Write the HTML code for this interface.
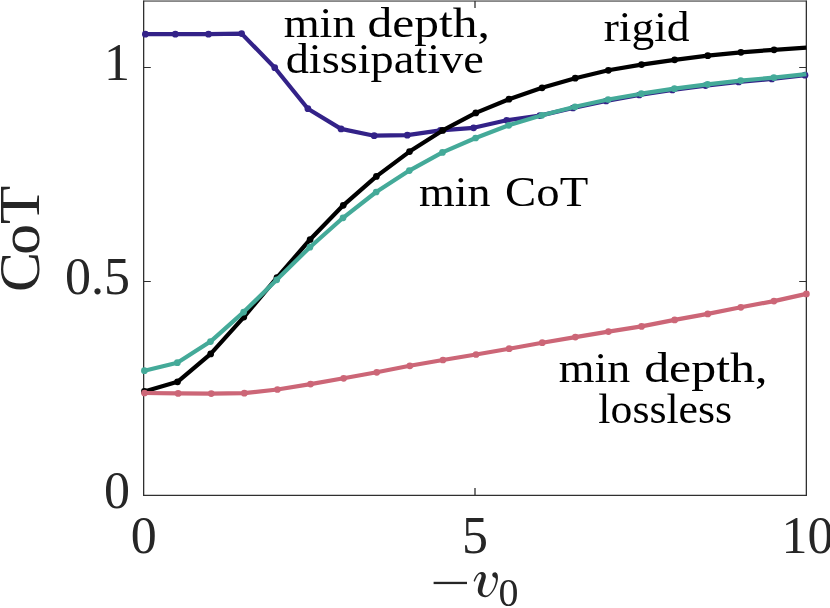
<!DOCTYPE html>
<html><head><meta charset="utf-8"><title>CoT vs -v0</title>
<style>
html,body{margin:0;padding:0;background:#fff;}
body{width:830px;height:608px;overflow:hidden;font-family:"Liberation Serif",serif;}
svg{display:block;position:absolute;left:0;top:0;will-change:transform;}
</style></head>
<body>
<svg width="830" height="608" viewBox="0 0 830 608">
<rect x="0" y="0" width="830" height="608" fill="#ffffff"/>

<rect x="143" y="0" width="664" height="1" fill="#9a9a9a"/>
<rect x="143" y="1" width="664" height="0.8" fill="#6a6a6a"/>
<line x1="143.65" y1="0.8" x2="143.65" y2="495.95" stroke="#303030" stroke-width="1.3"/>
<line x1="806.35" y1="0.8" x2="806.35" y2="495.95" stroke="#303030" stroke-width="1.3"/>
<line x1="143" y1="495.3" x2="807" y2="495.3" stroke="#303030" stroke-width="1.3"/>
<!-- ticks -->
<line x1="143.6" y1="67.5" x2="150.8" y2="67.5" stroke="#303030" stroke-width="1"/>
<line x1="143.6" y1="281.5" x2="150.8" y2="281.5" stroke="#303030" stroke-width="1"/>
<line x1="799.2" y1="67.5" x2="806.4" y2="67.5" stroke="#303030" stroke-width="1"/>
<line x1="799.2" y1="281.5" x2="806.4" y2="281.5" stroke="#303030" stroke-width="1"/>
<line x1="475" y1="488" x2="475" y2="495" stroke="#303030" stroke-width="1.3"/>
<line x1="475" y1="1" x2="475" y2="8" stroke="#303030" stroke-width="1.3"/>

<polyline points="145.35,34.20 175.34,34.20 208.48,34.20 241.62,33.60 274.76,67.70 307.90,108.70 341.04,128.90 374.18,135.70 407.32,135.20 440.46,130.40 473.60,127.80 506.74,120.30 539.88,115.60 573.02,108.00 606.16,101.00 639.30,95.00 672.44,90.00 705.58,85.60 738.72,82.00 771.86,79.00 805.00,75.20" fill="none" stroke="#332288" stroke-width="4.2" stroke-linejoin="round" stroke-linecap="butt"/>
<circle cx="145.35" cy="34.20" r="3.35" fill="#332288"/><circle cx="175.34" cy="34.20" r="3.35" fill="#332288"/><circle cx="208.48" cy="34.20" r="3.35" fill="#332288"/><circle cx="241.62" cy="33.60" r="3.35" fill="#332288"/><circle cx="274.76" cy="67.70" r="3.35" fill="#332288"/><circle cx="307.90" cy="108.70" r="3.35" fill="#332288"/><circle cx="341.04" cy="128.90" r="3.35" fill="#332288"/><circle cx="374.18" cy="135.70" r="3.35" fill="#332288"/><circle cx="407.32" cy="135.20" r="3.35" fill="#332288"/><circle cx="440.46" cy="130.40" r="3.35" fill="#332288"/><circle cx="473.60" cy="127.80" r="3.35" fill="#332288"/><circle cx="506.74" cy="120.30" r="3.35" fill="#332288"/><circle cx="539.88" cy="115.60" r="3.35" fill="#332288"/><circle cx="573.02" cy="108.00" r="3.35" fill="#332288"/><circle cx="606.16" cy="101.00" r="3.35" fill="#332288"/><circle cx="639.30" cy="95.00" r="3.35" fill="#332288"/><circle cx="672.44" cy="90.00" r="3.35" fill="#332288"/><circle cx="705.58" cy="85.60" r="3.35" fill="#332288"/><circle cx="738.72" cy="82.00" r="3.35" fill="#332288"/><circle cx="771.86" cy="79.00" r="3.35" fill="#332288"/><circle cx="805.00" cy="75.20" r="3.35" fill="#332288"/>
<polyline points="144.40,391.40 177.54,381.80 210.68,353.90 243.82,317.10 276.96,277.60 310.10,239.50 343.24,205.30 376.38,176.40 409.52,151.60 442.66,130.40 475.80,112.90 508.94,99.20 542.08,87.80 575.22,78.20 608.36,70.30 641.50,64.60 674.64,59.80 707.78,55.70 740.92,52.30 774.06,49.80 806.40,47.65" fill="none" stroke="#000000" stroke-width="4.2" stroke-linejoin="round" stroke-linecap="butt"/>
<circle cx="144.40" cy="391.40" r="3.35" fill="#000000"/><circle cx="177.54" cy="381.80" r="3.35" fill="#000000"/><circle cx="210.68" cy="353.90" r="3.35" fill="#000000"/><circle cx="243.82" cy="317.10" r="3.35" fill="#000000"/><circle cx="276.96" cy="277.60" r="3.35" fill="#000000"/><circle cx="310.10" cy="239.50" r="3.35" fill="#000000"/><circle cx="343.24" cy="205.30" r="3.35" fill="#000000"/><circle cx="376.38" cy="176.40" r="3.35" fill="#000000"/><circle cx="409.52" cy="151.60" r="3.35" fill="#000000"/><circle cx="442.66" cy="130.40" r="3.35" fill="#000000"/><circle cx="475.80" cy="112.90" r="3.35" fill="#000000"/><circle cx="508.94" cy="99.20" r="3.35" fill="#000000"/><circle cx="542.08" cy="87.80" r="3.35" fill="#000000"/><circle cx="575.22" cy="78.20" r="3.35" fill="#000000"/><circle cx="608.36" cy="70.30" r="3.35" fill="#000000"/><circle cx="641.50" cy="64.60" r="3.35" fill="#000000"/><circle cx="674.64" cy="59.80" r="3.35" fill="#000000"/><circle cx="707.78" cy="55.70" r="3.35" fill="#000000"/><circle cx="740.92" cy="52.30" r="3.35" fill="#000000"/><circle cx="774.06" cy="49.80" r="3.35" fill="#000000"/>
<polyline points="144.40,370.70 177.34,362.70 210.48,341.60 243.62,312.10 276.76,279.80 309.90,247.20 343.04,217.80 376.18,192.00 409.32,170.60 442.46,152.40 475.60,138.00 508.74,125.30 541.88,115.30 575.02,106.80 608.16,99.50 641.30,93.70 674.44,88.70 707.58,84.30 740.72,80.60 773.86,77.60 806.40,74.07" fill="none" stroke="#44AA99" stroke-width="4.2" stroke-linejoin="round" stroke-linecap="butt"/>
<circle cx="144.40" cy="370.70" r="3.35" fill="#44AA99"/><circle cx="177.34" cy="362.70" r="3.35" fill="#44AA99"/><circle cx="210.48" cy="341.60" r="3.35" fill="#44AA99"/><circle cx="243.62" cy="312.10" r="3.35" fill="#44AA99"/><circle cx="276.76" cy="279.80" r="3.35" fill="#44AA99"/><circle cx="309.90" cy="247.20" r="3.35" fill="#44AA99"/><circle cx="343.04" cy="217.80" r="3.35" fill="#44AA99"/><circle cx="376.18" cy="192.00" r="3.35" fill="#44AA99"/><circle cx="409.32" cy="170.60" r="3.35" fill="#44AA99"/><circle cx="442.46" cy="152.40" r="3.35" fill="#44AA99"/><circle cx="475.60" cy="138.00" r="3.35" fill="#44AA99"/><circle cx="508.74" cy="125.30" r="3.35" fill="#44AA99"/><circle cx="541.88" cy="115.30" r="3.35" fill="#44AA99"/><circle cx="575.02" cy="106.80" r="3.35" fill="#44AA99"/><circle cx="608.16" cy="99.50" r="3.35" fill="#44AA99"/><circle cx="641.30" cy="93.70" r="3.35" fill="#44AA99"/><circle cx="674.44" cy="88.70" r="3.35" fill="#44AA99"/><circle cx="707.58" cy="84.30" r="3.35" fill="#44AA99"/><circle cx="740.72" cy="80.60" r="3.35" fill="#44AA99"/><circle cx="773.86" cy="77.60" r="3.35" fill="#44AA99"/>
<polyline points="144.50,393.00 178.14,393.40 211.24,393.60 244.34,393.20 277.44,389.50 310.54,384.10 343.65,378.30 376.75,372.30 409.85,365.80 442.95,360.00 476.05,354.50 509.15,348.70 542.25,342.70 575.35,337.10 608.45,331.60 641.56,326.40 674.66,319.90 707.76,313.90 740.86,307.30 773.96,301.10 806.40,293.90" fill="none" stroke="#CC6677" stroke-width="4.2" stroke-linejoin="round" stroke-linecap="butt"/>
<circle cx="144.50" cy="393.00" r="3.35" fill="#CC6677"/><circle cx="178.14" cy="393.40" r="3.35" fill="#CC6677"/><circle cx="211.24" cy="393.60" r="3.35" fill="#CC6677"/><circle cx="244.34" cy="393.20" r="3.35" fill="#CC6677"/><circle cx="277.44" cy="389.50" r="3.35" fill="#CC6677"/><circle cx="310.54" cy="384.10" r="3.35" fill="#CC6677"/><circle cx="343.65" cy="378.30" r="3.35" fill="#CC6677"/><circle cx="376.75" cy="372.30" r="3.35" fill="#CC6677"/><circle cx="409.85" cy="365.80" r="3.35" fill="#CC6677"/><circle cx="442.95" cy="360.00" r="3.35" fill="#CC6677"/><circle cx="476.05" cy="354.50" r="3.35" fill="#CC6677"/><circle cx="509.15" cy="348.70" r="3.35" fill="#CC6677"/><circle cx="542.25" cy="342.70" r="3.35" fill="#CC6677"/><circle cx="575.35" cy="337.10" r="3.35" fill="#CC6677"/><circle cx="608.45" cy="331.60" r="3.35" fill="#CC6677"/><circle cx="641.56" cy="326.40" r="3.35" fill="#CC6677"/><circle cx="674.66" cy="319.90" r="3.35" fill="#CC6677"/><circle cx="707.76" cy="313.90" r="3.35" fill="#CC6677"/><circle cx="740.86" cy="307.30" r="3.35" fill="#CC6677"/><circle cx="773.96" cy="301.10" r="3.35" fill="#CC6677"/><circle cx="806.40" cy="293.90" r="3.35" fill="#CC6677"/>


<g font-family="Liberation Serif, serif" fill="#262626" font-size="52">
<text x="129.9" y="80" text-anchor="end">1</text>
<text x="129.9" y="294" text-anchor="end">0.5</text>
<text x="129.9" y="508" text-anchor="end">0</text>
<text x="143.7" y="553" text-anchor="middle">0</text>
<text x="475" y="553" text-anchor="middle">5</text>
<text x="781.6" y="553">10</text>
</g>
<g font-family="Liberation Serif, serif" fill="#262626">
<g transform="translate(38.9,290) rotate(-90)" font-size="56"><text x="-2.13" y="0" textLength="40.03" lengthAdjust="spacingAndGlyphs">C</text><text x="35.13" y="0" textLength="31.19" lengthAdjust="spacingAndGlyphs">o</text><text x="65.85" y="0" textLength="38.6" lengthAdjust="spacingAndGlyphs">T</text></g>
<rect x="433.6" y="581.8" width="33.4" height="2.3"/>
<path transform="translate(468,566) scale(0.0592)" d="M95 255 C110 200 150 105 235 100 C275 100 305 130 302 180 C298 230 260 320 245 400 C235 450 260 495 305 497 C370 495 430 400 462 290 C475 245 475 215 455 200 C425 190 405 170 410 145 C415 115 445 102 470 108 C500 118 510 160 505 220 C495 330 420 470 340 515 C300 535 230 530 190 480 C160 440 160 400 175 340 C190 280 225 210 228 175 C230 145 215 131 200 135 C168 144 138 205 115 268 Z"/>
<text x="498.6" y="605.6" font-size="40.5" textLength="20" lengthAdjust="spacingAndGlyphs">0</text>
</g>
<g font-family="Liberation Serif, serif" fill="#000" font-size="43">
<text x="283.7" y="36.6" textLength="71.87" lengthAdjust="spacingAndGlyphs">min</text>
<text x="367.52" y="36.6" textLength="122.42" lengthAdjust="spacingAndGlyphs">depth,</text>
<text x="285.67" y="72.6" textLength="198.08" lengthAdjust="spacingAndGlyphs">dissipative</text>
<text x="603.66" y="41.0" textLength="85.83" lengthAdjust="spacingAndGlyphs">rigid</text>
<text x="418.92" y="206.3" textLength="71.53" lengthAdjust="spacingAndGlyphs">min</text>
<text x="505.14" y="206.3" textLength="83.11" lengthAdjust="spacingAndGlyphs">CoT</text>
<text x="558.72" y="381.6" textLength="71.45" lengthAdjust="spacingAndGlyphs">min</text>
<text x="644.15" y="381.6" textLength="123.39" lengthAdjust="spacingAndGlyphs">depth,</text>
<text x="598.37" y="422.8" textLength="133.68" lengthAdjust="spacingAndGlyphs">lossless</text>
</g>

</svg>
</body></html>
